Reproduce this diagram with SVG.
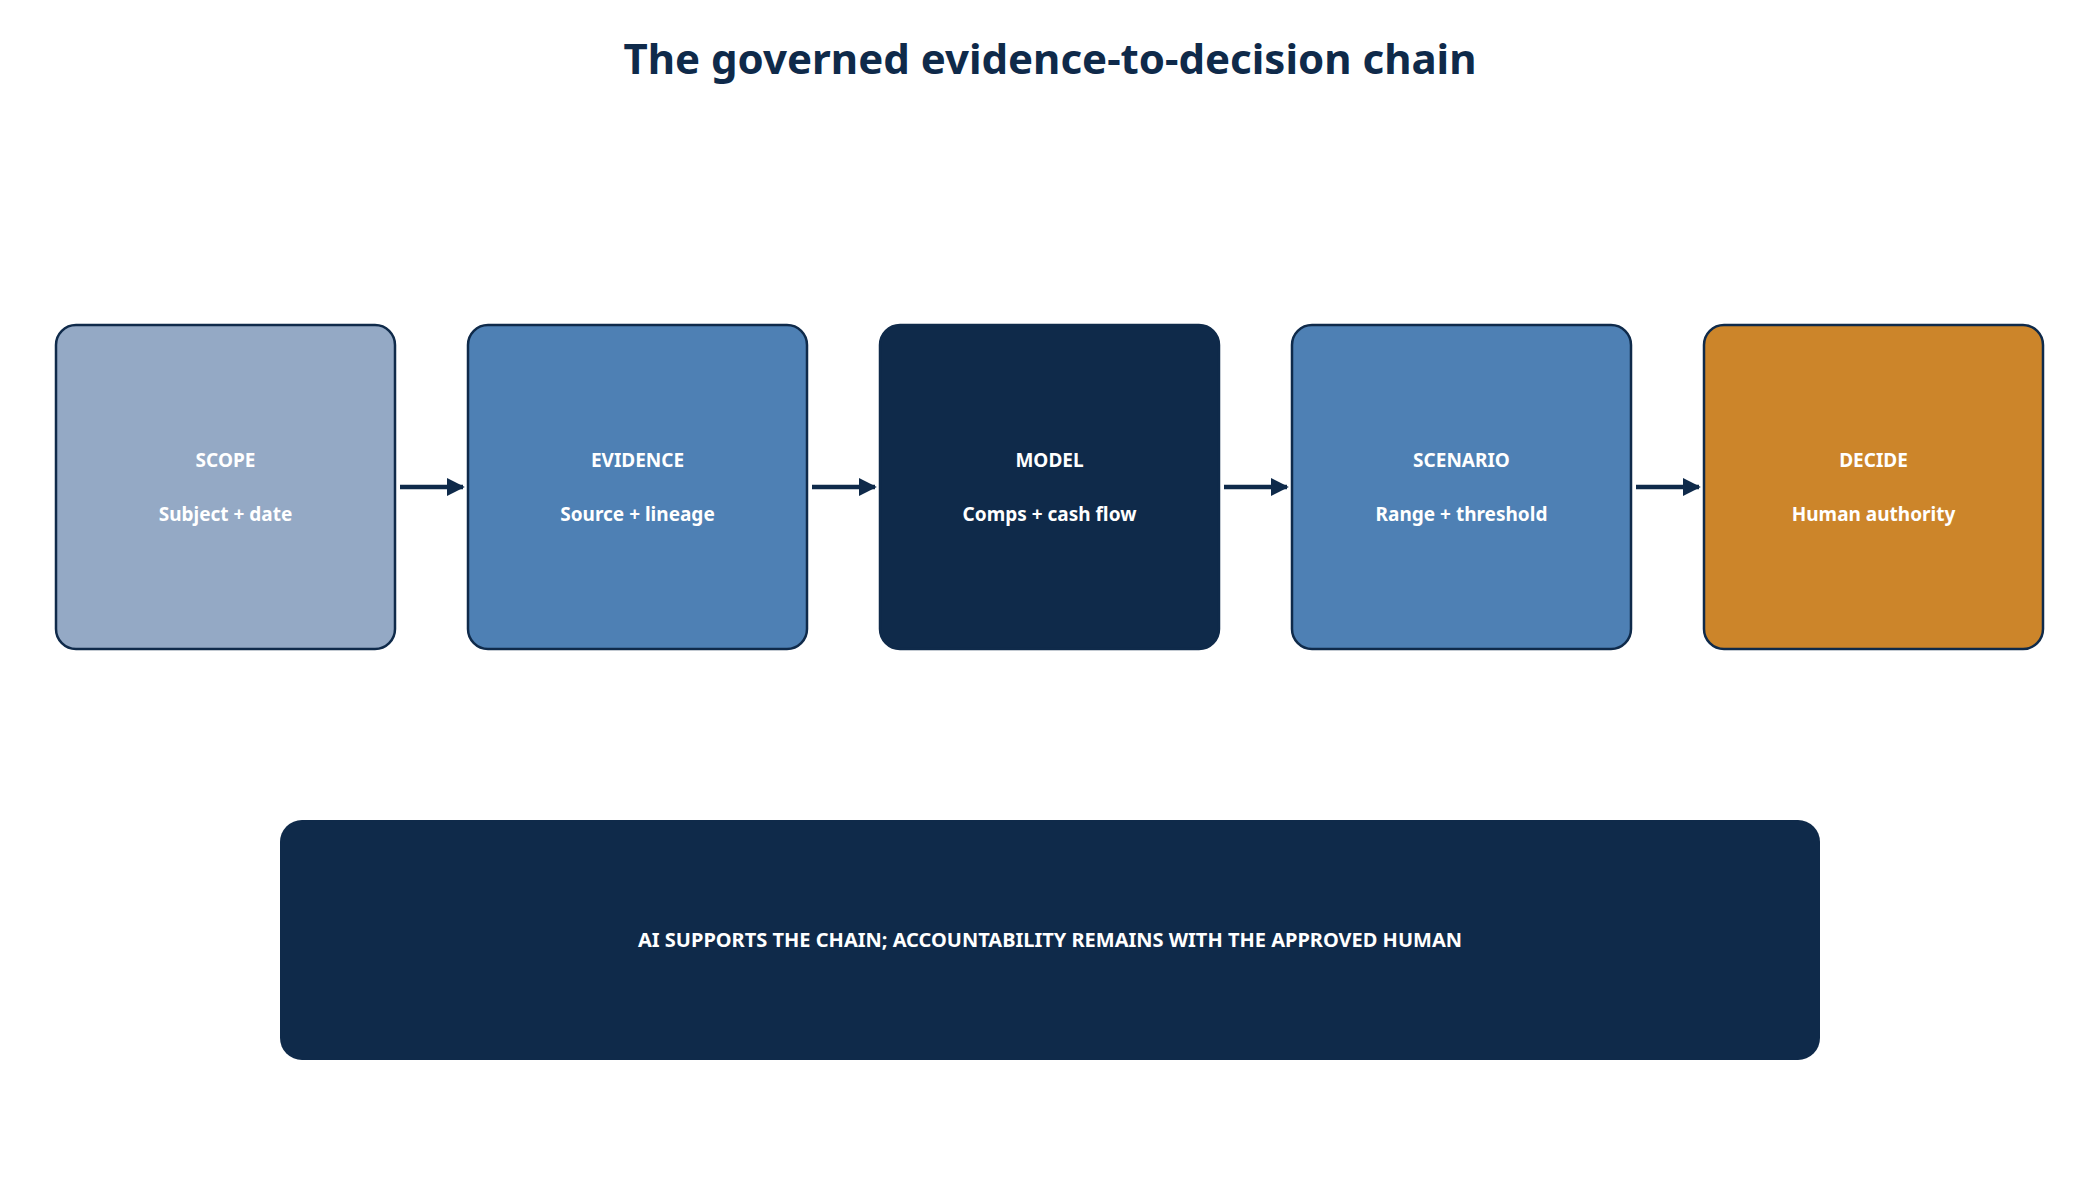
<svg xmlns="http://www.w3.org/2000/svg" width="2100" height="1180" viewBox="0 0 2100 1180">
<defs>
<marker id="ah" viewBox="0 0 10 10" refX="9" refY="5" markerWidth="4" markerHeight="4" orient="auto"><path d="M0,0 L10,5 L0,10 z" fill="#0F2A4A"/></marker>
<style>
.box{stroke:#0F2A4A;stroke-width:2.5}
.t{font-family:"Noto Sans","Open Sans",sans-serif;font-weight:bold;fill:#fff;text-anchor:middle}
.h{font-size:19px}
.s{font-size:19px}
.c{stroke:#0F2A4A;stroke-width:4.5;fill:none;marker-end:url(#ah)}
</style>
</defs>
<rect width="2100" height="1180" fill="#fff"/>
<text x="1050" y="74" font-family="Noto Sans,Open Sans,sans-serif" font-weight="bold" font-size="42" fill="#0F2A4A" text-anchor="middle">The governed evidence-to-decision chain</text>
<g id="scope"><rect class="box" x="56" y="325" width="339" height="324" rx="20" fill="#94A9C5"/><text class="t h" x="225.5" y="467">SCOPE</text><text class="t s" x="225.5" y="521">Subject + date</text></g>
<g id="evidence"><rect class="box" x="468" y="325" width="339" height="324" rx="20" fill="#4E80B4"/><text class="t h" x="637.5" y="467">EVIDENCE</text><text class="t s" x="637.5" y="521">Source + lineage</text></g>
<g id="model"><rect class="box" x="880" y="325" width="339" height="324" rx="20" fill="#0F2A4A"/><text class="t h" x="1049.5" y="467">MODEL</text><text class="t s" x="1049.5" y="521">Comps + cash flow</text></g>
<g id="scenario"><rect class="box" x="1292" y="325" width="339" height="324" rx="20" fill="#4E80B4"/><text class="t h" x="1461.5" y="467">SCENARIO</text><text class="t s" x="1461.5" y="521">Range + threshold</text></g>
<g id="decide"><rect class="box" x="1704" y="325" width="339" height="324" rx="20" fill="#CC852A"/><text class="t h" x="1873.5" y="467">DECIDE</text><text class="t s" x="1873.5" y="521">Human authority</text></g>
<g id="connectors">
<line class="c" x1="400" y1="487" x2="463" y2="487"/>
<line class="c" x1="812" y1="487" x2="875" y2="487"/>
<line class="c" x1="1224" y1="487" x2="1287" y2="487"/>
<line class="c" x1="1636" y1="487" x2="1699" y2="487"/>
</g>
<g id="footer"><rect x="280" y="820" width="1540" height="240" rx="22" fill="#0F2A4A"/><text class="t" font-size="20" x="1050" y="947">AI SUPPORTS THE CHAIN; ACCOUNTABILITY REMAINS WITH THE APPROVED HUMAN</text></g>
</svg>
